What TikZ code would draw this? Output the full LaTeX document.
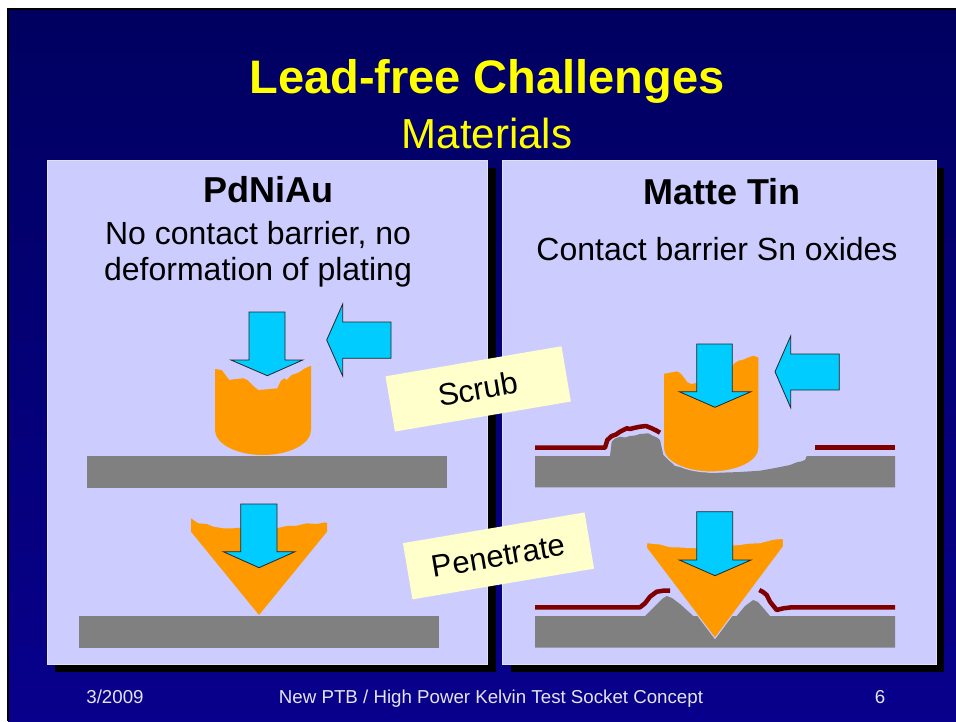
\documentclass[tikz,border=0pt]{standalone}
\usepackage{fontspec}
\setmainfont{Liberation Sans}
\definecolor{slidetop}{RGB}{0,0,96}
\definecolor{slidebot}{RGB}{8,0,140}
\definecolor{panelfill}{RGB}{204,204,255}
\definecolor{panelrim}{RGB}{225,225,240}
\definecolor{metal}{RGB}{255,153,0}
\definecolor{push}{RGB}{0,204,255}
\definecolor{base}{RGB}{128,128,128}
\definecolor{oxide}{RGB}{128,0,0}
\definecolor{note}{RGB}{255,255,204}
\definecolor{titleyellow}{RGB}{255,255,0}
\definecolor{footgray}{RGB}{228,228,236}
\newcommand\pxsize[1]{\fontsize{#1}{#1}\selectfont}
\begin{document}
\begin{tikzpicture}[x=1pt,y=-1pt,
  panel/.style={fill=panelfill, draw=panelrim, line width=1pt},
  shadowbox/.style={fill=black},
  metalpart/.style={fill=metal},
  pusharrow/.style={fill=push, draw=black!85, line width=0.8pt, line join=miter},
  substrate/.style={fill=base},
  oxideline/.style={draw=oxide, line width=4.5pt, line join=round},
  notebox/.style={fill=note, inner sep=0pt, minimum width=#1, minimum height=56pt, font=\pxsize{31}},
  heading/.style={anchor=base, inner sep=0pt, font=\pxsize{36}\bfseries},
  bodytext/.style={anchor=base, inner sep=0pt, font=\pxsize{32}},
  foot/.style={anchor=base, inner sep=0pt, text=footgray, font=\pxsize{18.7}}]
\useasboundingbox (0,0) rectangle (956,721);
\fill[white] (0,0) rectangle (956,721);
% slide background
\shade[top color=slidetop, bottom color=slidebot] (8,9) rectangle (956,721);
\draw[black, line width=2pt] (8,721) -- (8,9) -- (956,9);

% titles
\node[anchor=base, inner sep=0pt, text=titleyellow, font=\pxsize{47}\bfseries] (title) at (487,93) {Lead-free Challenges};
\node[anchor=base, inner sep=0pt, text=titleyellow, font=\pxsize{42}] (subtitle) at (487,148) {Materials};

% panels with drop shadows
\fill[shadowbox] (55,168) rectangle (495.5,672);
\fill[shadowbox] (510.5,168) rectangle (943.7,672);
\draw[panel] (47,160) rectangle (487.5,664);
\draw[panel] (502.5,160) rectangle (936,664);

% panel texts
\node[heading] (pdniau) at (268,202) {PdNiAu};
\node[bodytext] (pdline1) at (258,244) {No contact barrier, no};
\node[bodytext] (pdline2) at (258,280) {deformation of plating};
\node[heading] (matte) at (722,204) {Matte Tin};
\node[bodytext] (snline) at (717,260) {Contact barrier Sn oxides};

% ---------- PdNiAu: scrub ----------
\fill[substrate] (87,456) rectangle (447,488);
\fill[metalpart] (215,369) -- (221.7,370) -- (229.3,380) -- (233.3,379.3) -- (243.3,378.3) -- (247.3,380)
  -- (253.3,386) -- (258.3,390) -- (266.7,389.3) -- (277.3,388.3) -- (280.7,381) -- (284.3,378.3)
  -- (286.7,380) -- (291.7,375) -- (296.7,373.3) -- (300,371.7) -- (305,368.3) -- (311,365.7)
  -- (311,430) .. controls (311,443.8) and (289.5,455) .. (263,455)
  .. controls (236.5,455) and (215,443.8) .. (215,430) -- cycle;
\draw[pusharrow] (249,312) -- (285,312) -- (285,360) -- (302.7,360) -- (267.3,375.7) -- (231,360) -- (249,360) -- cycle;
\draw[pusharrow] (391,322) -- (391,358.3) -- (342.7,358.3) -- (342.7,376) -- (326.7,340) -- (342.7,304) -- (342.7,322) -- cycle;

% ---------- PdNiAu: penetrate ----------
\fill[substrate] (79,616) rectangle (439,648);
\fill[metalpart] (191,518.3) -- (193.3,520) -- (198.3,523.3) -- (206.7,524) -- (213.3,526.7) -- (223.3,528.3)
  -- (233.3,528.3) -- (240,527.7) -- (276.7,528.3) -- (286.7,526) -- (296.7,525.7) -- (306.7,523.3)
  -- (316.7,524) -- (323.3,522.7) -- (327,522.7) -- (327,531.7) -- (259,615) -- (191,531.7) -- cycle;
\draw[pusharrow] (240.7,504) -- (277,504) -- (277,551.7) -- (295,551.7) -- (259,567.7) -- (223.3,551.7) -- (240.7,551.7) -- cycle;

% ---------- Matte Tin: scrub ----------
\fill[substrate] (535,456) -- (610,456) -- (611.7,441.7) -- (615,438.5) -- (620,436.7) -- (625,437.5) -- (630,436)
  -- (635,435.5) -- (640,434) -- (648.3,433.3) -- (653.3,436) -- (657,437.5) -- (660,440) -- (663.3,455)
  -- (675,466) -- (711,473) -- (740,472) -- (760,470.7) -- (775,468) -- (790,465) -- (796.7,462.3)
  -- (801,461.5) -- (805,460) -- (806.7,456) -- (895,456) -- (895,487.3) -- (535,487.3) -- cycle;
\draw[oxideline] (535,447.7) -- (605,447.7) -- (607.3,440) -- (611.7,436) -- (616,434.5) -- (620,431.7)
  -- (626.7,428.3) -- (630,429) -- (635,427.7) -- (640,426.7) -- (646,426) -- (651.7,428.3) -- (656.7,430.7) -- (660,432.7);
\draw[oxideline] (815,447.7) -- (895,447.7);
\filldraw[metalpart, draw=panelfill, line width=1.2pt] (663.3,373.3) -- (670,372) -- (676.7,370.7) -- (680,372) -- (683,375)
  -- (688,381.7) -- (691.7,383.3) -- (698,382) -- (730,370) -- (733.3,363.3) -- (738.3,360) -- (743,359)
  -- (746.7,357.3) -- (753.3,355) -- (758.3,356.7) -- (759,357)
  -- (759,448) .. controls (759,461.3) and (737.5,472) .. (711,472)
  .. controls (684.5,472) and (663.3,461.3) .. (663.3,448) -- cycle;
\draw[pusharrow] (696.7,344) -- (732.3,344) -- (732.3,391.7) -- (751,391.7) -- (715,407.3) -- (679.3,391.7) -- (696.7,391.7) -- cycle;
\draw[pusharrow] (839.3,354) -- (839.3,390) -- (790.7,390) -- (790.7,407.7) -- (775,371.7) -- (790.7,336) -- (790.7,354) -- cycle;

% ---------- Matte Tin: penetrate ----------
\fill[substrate] (535,616) -- (645,616) -- (655,606) -- (662,599) -- (666.7,596) -- (672,598) -- (680,604)
  -- (690,613) -- (693.3,616) -- (736.7,616) -- (745,606) -- (753.3,600) -- (758,602) -- (765,610)
  -- (770,616) -- (895,616) -- (895,647.7) -- (535,647.7) -- cycle;
\draw[oxideline] (535,607.3) -- (640,607.3) -- (645,603.3) -- (650,596.7) -- (656.7,591.7) -- (663.3,590.7) -- (670,590.7);
\draw[oxideline] (759.3,590) -- (763,592) -- (766.7,595) -- (770,601.7) -- (776.7,610) -- (783.3,608.3) -- (791.7,607.3) -- (895,607.3);
\filldraw[metalpart, draw=panelfill, line width=1pt] (646.7,542.7) -- (660,544) -- (670,546.7) -- (680,547) -- (690,547.5)
  -- (697,547.7) -- (733,545) -- (740,544.5) -- (747,543.3) -- (760,542.7) -- (773,539.3) -- (783.3,538.3)
  -- (783.3,546.7) -- (715,638.3) -- (646.7,548.3) -- cycle;
\draw[pusharrow] (696.7,511.7) -- (732.7,511.7) -- (732.7,560) -- (751,560) -- (715,575.7) -- (679.3,560) -- (696.7,560) -- cycle;

% tilted labels
\node[notebox=178.5pt, rotate=9.7] (scrub) at (478.2,388.9) {Scrub};
\node[notebox=184.2pt, minimum height=57pt, rotate=9.6] (penetrate) at (498.5,555.9) {Penetrate};

% footer
\node[foot] (date) at (115,703) {3/2009};
\node[foot] (project) at (491,703) {New PTB / High Power Kelvin Test Socket Concept};
\node[foot] (page) at (880,703) {6};
\end{tikzpicture}
\end{document}
